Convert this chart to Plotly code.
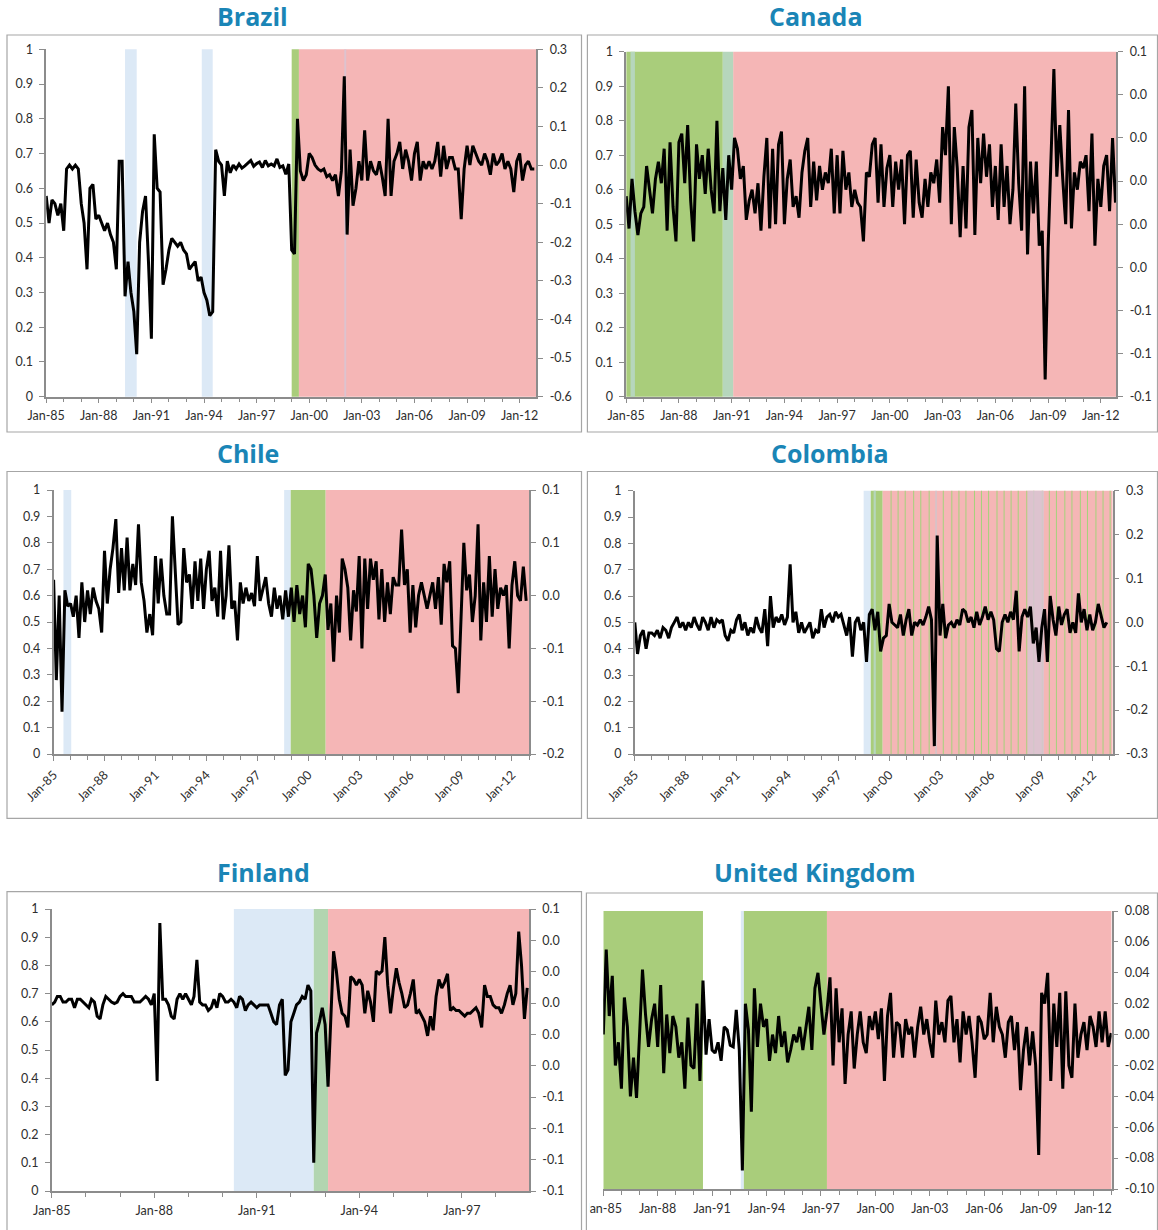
import pandas as pd
import plotly.graph_objects as go

# ---------------- data ----------------
series_start = "1985-01-01"

# right-axis series, sampled every two months from Jan-1985
brazil = [
    -0.08, -0.15, -0.09, -0.10, -0.13, -0.10,
    -0.17, -0.01, 0.00, -0.01, 0.00, -0.01,
    -0.10, -0.15, -0.27, -0.06, -0.05, -0.14,
    -0.13, -0.15, -0.17, -0.15, -0.18, -0.20,
    -0.27, 0.01, 0.01, -0.34, -0.25, -0.33,
    -0.38, -0.49, -0.20, -0.12, -0.08, -0.25,
    -0.45, 0.08, -0.06, -0.07, -0.31, -0.27,
    -0.22, -0.19, -0.20, -0.21, -0.20, -0.22,
    -0.23, -0.27, -0.26, -0.25, -0.30, -0.29,
    -0.33, -0.35, -0.39, -0.38, 0.04, 0.01,
    0.00, -0.08, 0.01, -0.02, 0.00, -0.01,
    0.003, -0.008, -0.002, 0.005, 0.012, -0.003,
    0.004, 0.008, -0.006, 0.012, -0.002, 0.003,
    -0.002, 0.016, -0.006, -0.002, -0.024, 0.003,
    -0.22, -0.23, 0.12, -0.015, -0.04, -0.025,
    0.03, 0.02, 0.00, -0.01, -0.015, -0.01,
    -0.03, -0.025, -0.04, -0.025, -0.08, -0.015,
    0.23, -0.18, 0.04, -0.105, -0.06, 0.01,
    -0.04, 0.09, -0.04, 0.01, -0.015, -0.025,
    0.01, -0.03, -0.08, 0.12, -0.08, 0.01,
    0.03, 0.06, -0.01, 0.04, 0.01, -0.04,
    0.03, 0.06, -0.04, 0.01, -0.01, 0.01,
    -0.01, 0.01, 0.06, -0.03, 0.05, -0.01,
    0.02, 0.02, -0.01, -0.01, -0.14, -0.01,
    0.05, 0.00, 0.05, 0.03, 0.01, 0.00,
    0.03, 0.01, -0.025, 0.03, 0.00, 0.01,
    0.03, -0.01, 0.01, -0.01, -0.07, 0.01,
    0.03, -0.04, 0.00, 0.01, -0.01, -0.01,
]

canada = [
    -0.007, -0.022, 0.001, -0.014, -0.025, -0.015,
    -0.012, 0.007, -0.004, -0.015, 0.001, 0.009,
    -0.001, 0.015, -0.023, 0.018, -0.012, -0.028,
    0.018, 0.022, -0.001, 0.026, -0.009, -0.028,
    0.017, 0.001, 0.012, -0.006, 0.015, -0.004,
    -0.015, 0.028, -0.014, 0.006, -0.018, 0.012,
    -0.004, 0.020, 0.015, 0.001, 0.007, -0.018,
    -0.009, -0.004, -0.015, -0.001, -0.023, 0.002,
    0.020, -0.022, 0.015, -0.020, 0.017, 0.023,
    -0.020, 0.001, 0.010, -0.012, -0.007, -0.017,
    0.004, 0.014, 0.020, -0.012, 0.009, -0.009,
    0.007, -0.004, 0.004, -0.001, 0.015, -0.015,
    0.012, -0.015, 0.014, -0.004, 0.004, -0.012,
    -0.004, -0.010, -0.012, -0.028, 0.004, 0.002,
    0.017, 0.020, -0.010, 0.017, -0.012, 0.006,
    0.012, -0.012, 0.009, -0.004, 0.010, -0.020,
    0.012, 0.014, -0.017, 0.010, -0.010, -0.017,
    0.001, -0.012, 0.004, -0.001, 0.010, -0.010,
    0.025, 0.012, 0.044, -0.020, 0.025, 0.006,
    -0.026, 0.007, -0.022, 0.025, 0.033, -0.025,
    0.020, -0.001, 0.022, 0.002, 0.017, -0.012,
    0.007, -0.018, 0.017, -0.012, 0.007, -0.020,
    -0.004, 0.036, -0.001, -0.023, 0.044, -0.034,
    0.009, -0.015, 0.009, -0.030, -0.023, -0.092,
    -0.031, 0.012, 0.052, 0.002, 0.026, 0.001,
    -0.020, 0.033, -0.022, 0.004, -0.004, 0.009,
    0.006, 0.012, -0.014, 0.022, -0.030, 0.001,
    -0.012, 0.007, 0.012, -0.014, 0.020, -0.010,
]

chile = [
    0.015, -0.08, 0.0, -0.11, 0.005, -0.01,
    -0.0075, -0.02, 0.0, -0.04, 0.0125, -0.025,
    0.005, -0.0175, 0.0075, -0.005, -0.0125, -0.035,
    0.0425, -0.0075, 0.025, 0.045, 0.0725, 0.0025,
    0.045, 0.005, 0.055, 0.005, 0.03, 0.01,
    0.0675, 0.0125, -0.005, -0.035, -0.0175, -0.0375,
    0.0375, -0.0075, 0.035, 0.0, -0.0175, -0.0175,
    0.075, 0.025, -0.0275, -0.025, 0.045, 0.0125,
    0.02, -0.0125, 0.0325, -0.005, 0.035, -0.0125,
    0.025, 0.0425, -0.005, 0.0075, -0.02, 0.0425,
    -0.0225, 0.0, 0.0475, -0.0125, -0.005, -0.0425,
    0.0125, -0.0075, 0.0075, -0.005, 0.0025, -0.01,
    0.0375, -0.005, 0.005, 0.0175, -0.0075, -0.02,
    0.0075, -0.0125, 0.0, -0.0225, 0.005, -0.02,
    0.0075, -0.025, 0.01, -0.0175, 0.0, -0.03,
    0.03, 0.025, 0.0, -0.04, -0.0075, 0.0,
    0.02, -0.0325, -0.0075, -0.0625, 0.0, -0.035,
    0.035, 0.025, 0.0075, -0.0425, 0.005, -0.015,
    0.0375, -0.05, 0.035, -0.0125, 0.035, 0.015,
    0.0325, -0.0225, 0.025, -0.025, 0.0125, -0.0175,
    0.0175, 0.01, 0.01, 0.0625, 0.01, 0.025,
    -0.035, 0.01, -0.03, 0.0, 0.0125, 0.0,
    -0.0125, 0.0, 0.0125, -0.0125, 0.0175, -0.0275,
    0.03, 0.0125, 0.0325, -0.0475, -0.05, -0.0925,
    -0.0125, 0.05, 0.005, 0.02, -0.025, 0.0,
    0.0675, -0.0425, 0.0125, -0.025, 0.0375, -0.02,
    0.025, -0.0125, 0.0075, 0.0, 0.01, -0.05,
    0.01, 0.0325, 0.0, -0.005, 0.0275, -0.005,
]

colombia = [
    0.0, -0.072, -0.03, -0.018, -0.06, -0.024,
    -0.024, -0.03, -0.018, -0.036, -0.012, -0.018,
    -0.036, -0.012, 0.0, 0.012, -0.012, 0.0,
    -0.018, 0.0, -0.012, 0.012, -0.006, -0.018,
    0.012, 0.0, -0.018, 0.012, -0.012, 0.006,
    0.0, 0.006, -0.03, -0.042, -0.018, -0.024,
    0.006, 0.018, -0.018, 0.0, -0.03, -0.012,
    -0.024, 0.012, -0.012, -0.024, 0.03, -0.054,
    0.06, -0.012, 0.012, 0.0, 0.018, -0.006,
    0.012, 0.132, 0.0, 0.024, -0.024, 0.0,
    -0.024, -0.012, 0.0, -0.036, -0.018, -0.024,
    0.03, -0.012, 0.012, 0.018, 0.0, 0.024,
    0.012, 0.018, -0.006, -0.03, 0.012, -0.078,
    0.0, 0.012, -0.018, 0.0, -0.09, 0.018,
    0.03, -0.018, 0.024, -0.066, -0.036, -0.03,
    0.042, 0.0, -0.006, -0.012, 0.018, -0.03,
    0.006, 0.03, -0.03, 0.0, -0.006, 0.006,
    -0.006, 0.012, 0.036, 0.006, -0.282, 0.198,
    -0.03, 0.042, -0.036, -0.006, 0.0, -0.012,
    0.006, -0.006, 0.03, 0.024, 0.0, 0.012,
    -0.012, 0.024, -0.006, 0.012, 0.036, 0.006,
    0.024, 0.006, -0.06, -0.066, 0.0, 0.018,
    0.0, 0.024, 0.006, 0.072, -0.066, 0.012,
    0.03, 0.012, 0.036, -0.048, -0.012, -0.09,
    -0.012, 0.03, -0.09, 0.06, 0.006, -0.03,
    0.036, -0.006, 0.018, 0.03, -0.024, 0.0,
    -0.024, 0.066, 0.0, 0.03, -0.018, 0.018,
    -0.018, 0.0, 0.042, 0.012, -0.012, 0.0,
]

# monthly from Jan-1985 to Dec-1998
finland = [
    -0.0012, 0.0006, 0.0042, 0.0042, 0.0006, 0.0006, 0.0024, 0.0024, -0.003, 0.0024, 0.0024, 0.0006,
    -0.0012, -0.003, 0.0024, 0.0006, -0.0084, -0.0102, -0.0012, 0.0042, 0.0024, 0.0006, -0.0003, 0.0006,
    0.0042, 0.006, 0.0042, 0.0042, 0.0042, 0.0006, 0.0006, 0.0006, 0.0024, 0.0042, 0.0024, -0.0012,
    0.006, -0.0498, 0.051, 0.0024, 0.0024, -0.0012, -0.0084, -0.0102, 0.0024, 0.006, 0.0024, 0.006,
    0.0024, -0.0012, 0.0042, 0.0276, 0.0006, -0.0012, -0.0012, -0.0048, -0.003, 0.0024, -0.003, 0.006,
    0.0042, 0.0006, 0.0006, 0.0024, 0.0006, -0.003, 0.0042, 0.0024, -0.0048, -0.0012, 0.0006, -0.0012,
    -0.003, -0.0012, -0.0012, -0.0012, -0.0012, -0.0066, -0.012, -0.0138, -0.0012, 0.0024, -0.0462, -0.0426,
    -0.012, -0.0066, -0.0012, 0.0006, 0.0042, 0.0024, 0.0114, 0.0078, -0.102, -0.0192, -0.012, -0.003,
    -0.0138, -0.0534, -0.012, 0.033, 0.0204, 0.0024, -0.0066, -0.0084, -0.0156, 0.0168, 0.015, 0.0114,
    0.015, 0.0114, -0.0066, 0.0078, 0.0006, -0.012, 0.0204, 0.0186, 0.0204, 0.042, 0.0114, -0.0066,
    0.0096, 0.0222, 0.0132, 0.006, -0.003, -0.0012, 0.006, 0.015, -0.0066, -0.0048, -0.0084, -0.012,
    -0.021, -0.0084, -0.0174, 0.0042, 0.015, 0.0096, 0.0132, 0.0186, -0.0048, -0.003, -0.0048, -0.0048,
    -0.0066, -0.0084, -0.0066, -0.0066, -0.0048, -0.003, -0.0066, -0.0156, 0.0114, 0.0042, 0.0042, -0.0012,
    -0.003, -0.003, -0.0066, -0.0012, 0.006, 0.0114, -0.0012, 0.006, 0.0456, 0.024, -0.0102, 0.0096,
]

uk = [
    0.000, 0.055, 0.012, 0.038, -0.020, -0.005,
    -0.035, 0.024, 0.005, -0.040, -0.015, -0.041,
    0.000, 0.042, 0.013, -0.008, 0.010, 0.020,
    -0.008, 0.032, -0.025, 0.013, -0.012, 0.012,
    0.005, -0.015, -0.005, -0.035, 0.011, -0.020,
    -0.022, 0.020, -0.030, 0.035, -0.013, 0.010,
    -0.010, -0.012, -0.005, -0.017, 0.005, 0.003,
    -0.007, -0.008, 0.016, -0.010, -0.088, 0.020,
    0.003, -0.050, 0.030, -0.008, 0.020, 0.005,
    0.010, -0.017, 0.000, -0.012, 0.012, -0.008,
    0.002, -0.018, -0.010, 0.000, -0.005, 0.005,
    -0.010, 0.005, 0.018, -0.010, 0.030, 0.040,
    0.020, 0.000, 0.015, 0.037, -0.020, 0.030,
    -0.005, 0.017, -0.032, 0.000, 0.015, -0.022,
    0.000, 0.015, -0.005, -0.012, 0.012, 0.003,
    0.015, -0.003, 0.017, -0.030, 0.012, 0.027,
    -0.015, 0.008, 0.006, -0.015, 0.010, 0.000,
    0.005, -0.015, 0.005, 0.018, 0.000, 0.010,
    -0.005, -0.015, 0.022, 0.000, 0.008, -0.005,
    0.022, 0.025, -0.005, 0.010, -0.018, 0.015,
    0.000, 0.012, -0.005, -0.028, 0.012, 0.008,
    -0.003, 0.000, 0.027, -0.005, 0.018, 0.005,
    0.000, -0.015, 0.008, 0.012, -0.010, 0.008,
    -0.036, -0.010, 0.005, -0.020, 0.002, -0.020,
    -0.078, 0.027, 0.020, 0.040, -0.030, 0.020,
    -0.008, 0.027, -0.035, 0.028, -0.020, -0.028,
    0.020, -0.015, 0.000, 0.008, -0.010, 0.012,
    0.005, -0.008, 0.015, -0.005, 0.015, -0.008,
    0.001,
]

# regime periods (start, end, regime)
brazil_regimes = [("1989-07-01", "1990-03-01", "blue"), ("1993-11-15", "1994-07-01", "blue"),
                  ("1999-01-01", "1999-06-01", "green"), ("1999-06-01", "2012-12-31", "pink"),
                  ("2002-01-01", "2002-02-10", "lavender")]
canada_regimes = [("1985-01-01", "1990-07-01", "green"), ("1985-04-01", "1985-07-01", "teal"),
                  ("1990-07-01", "1991-02-01", "teal"), ("1991-02-01", "2012-12-31", "pink")]
chile_regimes = [("1985-08-01", "1986-01-15", "blue"), ("1998-08-01", "1998-12-20", "blue"),
                 ("1998-12-20", "2001-01-10", "green"), ("2001-01-10", "2013-01-01", "pink")]
colombia_regimes = [("1998-07-01", "1998-12-01", "blue"), ("1998-12-01", "1999-08-15", "green"),
                    ("1999-02-01", "1999-03-20", "teal"), ("1999-08-15", "2013-03-10", "pink"),
                    ("2008-03-01", "2009-02-15", "lavender"), ("2002-09-20", "2002-10-25", "grey")]
colombia_switch_months = ["2000-02-01", "2000-07-01", "2000-12-01", "2001-06-01", "2001-11-01",
                          "2002-05-01", "2003-03-01", "2003-09-01", "2004-02-01", "2004-07-01",
                          "2005-01-01", "2005-06-01", "2005-11-01", "2006-05-01", "2006-10-01",
                          "2007-03-01", "2007-08-01", "2008-02-01", "2008-07-01", "2009-01-01",
                          "2009-06-01", "2009-11-01", "2010-05-01", "2010-10-01", "2011-04-01",
                          "2011-09-01", "2012-03-01", "2012-08-01", "2013-01-01"]
finland_regimes = [("1990-05-01", "1992-09-01", "blue"), ("1992-09-01", "1993-02-01", "teal2"),
                   ("1993-02-01", "1998-12-31", "pink")]
uk_regimes = [("1985-01-01", "1990-07-01", "green"), ("1992-08-01", "1992-10-01", "blue"),
              ("1992-10-01", "1997-05-01", "green"), ("1997-05-01", "2013-01-10", "pink")]

# tick labels
left_ticks = [0, 0.1, 0.2, 0.3, 0.4, 0.5, 0.6, 0.7, 0.8, 0.9, 1.0]
left_text = ["0", "0.1", "0.2", "0.3", "0.4", "0.5", "0.6", "0.7", "0.8", "0.9", "1"]
brazil_rt = [-0.6, -0.5, -0.4, -0.3, -0.2, -0.1, 0.0, 0.1, 0.2, 0.3]
brazil_rt_text = ["-0.6", "-0.5", "-0.4", "-0.3", "-0.2", "-0.1", "0.0", "0.1", "0.2", "0.3"]
canada_rt = [-0.10, -0.08, -0.06, -0.04, -0.02, 0.0, 0.02, 0.04, 0.06]
canada_rt_text = ["-0.1", "-0.1", "-0.1", "0.0", "0.0", "0.0", "0.0", "0.0", "0.1"]
chile_rt = [-0.15, -0.10, -0.05, 0.0, 0.05, 0.10]
chile_rt_text = ["-0.2", "-0.1", "-0.1", "0.0", "0.1", "0.1"]
colombia_rt = [-0.3, -0.2, -0.1, 0.0, 0.1, 0.2, 0.3]
colombia_rt_text = ["-0.3", "-0.2", "-0.1", "0.0", "0.1", "0.2", "0.3"]
finland_rt = [-0.12, -0.10, -0.08, -0.06, -0.04, -0.02, 0.0, 0.02, 0.04, 0.06]
finland_rt_text = ["-0.1", "-0.1", "-0.1", "-0.1", "0.0", "0.0", "0.0", "0.0", "0.0", "0.1"]
uk_rt = [-0.10, -0.08, -0.06, -0.04, -0.02, 0.0, 0.02, 0.04, 0.06, 0.08]
uk_rt_text = ["-0.10", "-0.08", "-0.06", "-0.04", "-0.02", "0.00", "0.02", "0.04", "0.06", "0.08"]

# ---------------- styling ----------------
W, H = 1158, 1230
REGIME_COLORS = {"blue": "#dce9f6", "green": "#a9cd7b", "pink": "#f5b6b6", "teal": "#b6d6bc",
                 "teal2": "#b2d5b0", "lavender": "#d8c6d4", "grey": "#cfc7cc"}
STRIPE_COLOR = "#a6d27c"
AX = "#8c8c8c"
TXT = "#2e2e2e"
TICKFONT = dict(family="Lato, 'Open Sans', sans-serif", size=12.5, color=TXT)
TITLEFONT = dict(family="'Open Sans', sans-serif", size=25, color="#1a85b6")

panels = [
    dict(title="Brazil", tpos=(252, 16), box=(7, 35, 581.5, 432), plot=(46.2, 49.3, 536.4, 396.7),
         xr=["1985-01-01", "2012-12-15"], vals=brazil, freq="2MS", rt=brazil_rt, rtt=brazil_rt_text,
         rr=[-0.6, 0.3], ang=0, left=True, regimes=brazil_regimes, stripes=[]),
    dict(title="Canada", tpos=(815, 16), box=(587.4, 35, 1157.5, 432), plot=(626.2, 51.7, 1116.4, 396.7),
         xr=["1985-01-01", "2012-11-20"], vals=canada, freq="2MS", rt=canada_rt, rtt=canada_rt_text,
         rr=[-0.10, 0.06], ang=0, left=True, regimes=canada_regimes, stripes=[]),
    dict(title="Chile", tpos=(248, 453), box=(7, 471.5, 581.5, 818.3), plot=(53.6, 490, 529, 754),
         xr=["1985-01-01", "2013-01-01"], vals=chile, freq="2MS", rt=chile_rt, rtt=chile_rt_text,
         rr=[-0.15, 0.10], ang=-45, left=True, regimes=chile_regimes, stripes=[]),
    dict(title="Colombia", tpos=(830, 453), box=(587.4, 471.5, 1157.5, 818.3), plot=(634.8, 490.7, 1112.7, 754),
         xr=["1985-01-01", "2013-03-08"], vals=colombia, freq="2MS", rt=colombia_rt, rtt=colombia_rt_text,
         rr=[-0.3, 0.3], ang=-45, left=True, regimes=colombia_regimes, stripes=colombia_switch_months),
    dict(title="Finland", tpos=(263, 872), box=(7, 891.7, 581.5, 1240), plot=(51.8, 909, 529, 1191),
         xr=["1985-01-01", "1998-12-20"], vals=finland, freq="MS", rt=finland_rt, rtt=finland_rt_text,
         rr=[-0.12, 0.06], ang=0, left=True, regimes=finland_regimes, stripes=[]),
    dict(title="United Kingdom", tpos=(815, 872), box=(586.4, 893, 1157.5, 1240), plot=(603.3, 911, 1111.6, 1189),
         xr=["1985-01-01", "2013-01-08"], vals=uk, freq="2MS", rt=uk_rt, rtt=uk_rt_text,
         rr=[-0.10, 0.08], ang=0, left=False, regimes=uk_regimes, stripes=[]),
]

fig = go.Figure()
layout = dict(width=W, height=H, margin=dict(l=0, r=0, t=0, b=0, pad=0, autoexpand=False), autosize=False,
              paper_bgcolor="white", plot_bgcolor="rgba(0,0,0,0)", showlegend=False)
shapes = []
annotations = []


def shade(xref, lref, s, e, color, opacity=1.0):
    return dict(type="rect", xref=xref, yref=f"{lref} domain", x0=s, x1=e, y0=0, y1=1,
                fillcolor=color, line=dict(width=0), layer="below", opacity=opacity)


for i, p in enumerate(panels, start=1):
    xname = "xaxis" if i == 1 else f"xaxis{i}"
    xref = "x" if i == 1 else f"x{i}"
    li, ri = 2 * i - 1, 2 * i
    lname = "yaxis" if li == 1 else f"yaxis{li}"
    lref = "y" if li == 1 else f"y{li}"
    rname = f"yaxis{ri}"
    rref = f"y{ri}"
    x0, y0, x1, y1 = p["plot"]

    layout[xname] = dict(
        domain=[x0 / W, x1 / W], anchor=lref, type="date", range=p["xr"], automargin=False,
        tick0="1985-01-01", dtick="M36", tickformat="%b-%y", tickangle=p["ang"],
        ticks="outside", ticklen=5, tickwidth=1, tickcolor=AX, ticklabelstandoff=2,
        showline=True, linecolor=AX, linewidth=1.5, showgrid=False, zeroline=False,
        tickfont=TICKFONT, fixedrange=True,
        minor=dict(dtick="M12", tick0="1985-01-01", ticks="outside", ticklen=4, tickcolor=AX, showgrid=False),
    )
    layout[lname] = dict(
        domain=[1 - y1 / H, 1 - y0 / H], anchor=xref, range=[0, 1], automargin=False,
        tickvals=left_ticks, ticktext=left_text, ticks="outside", ticklen=5, tickcolor=AX,
        ticklabelstandoff=4,
        showline=True, linecolor=AX, linewidth=1.5, showgrid=False, zeroline=False,
        tickfont=TICKFONT, visible=p["left"], fixedrange=True,
    )
    layout[rname] = dict(
        overlaying=lref, side="right", anchor=xref, range=p["rr"], automargin=False,
        tickvals=p["rt"], ticktext=p["rtt"], ticks="outside", ticklen=5, tickcolor=AX,
        ticklabelstandoff=4,
        showline=True, linecolor=AX, linewidth=1.5, showgrid=False, zeroline=False,
        tickfont=TICKFONT, fixedrange=True,
    )

    fig.add_trace(go.Scatter(x=[], y=[], xaxis=xref, yaxis=lref, hoverinfo="skip", showlegend=False))
    dates = pd.date_range(series_start, periods=len(p["vals"]), freq=p["freq"])
    fig.add_trace(go.Scatter(x=dates, y=p["vals"], xaxis=xref, yaxis=rref, mode="lines",
                             line=dict(color="black", width=3.0), showlegend=False))

    # regime shading: base regimes, then overlapping mixes, then switch stripes
    for s, e, k in p["regimes"]:
        if k not in ("lavender", "grey", "teal"):
            shapes.append(shade(xref, lref, s, e, REGIME_COLORS[k]))
    for s, e, k in p["regimes"]:
        if k == "teal":
            shapes.append(shade(xref, lref, s, e, REGIME_COLORS[k]))
    for s in p["stripes"]:
        e = (pd.Timestamp(s) + pd.Timedelta(days=22)).strftime("%Y-%m-%d")
        shapes.append(shade(xref, lref, s, e, STRIPE_COLOR))
    for s, e, k in p["regimes"]:
        if k in ("lavender", "grey"):
            shapes.append(shade(xref, lref, s, e, REGIME_COLORS[k], 0.85))

    tx, ty = p["tpos"]
    annotations.append(dict(text=f"<b>{p['title']}</b>", x=tx / W, y=1 - ty / H, xref="paper", yref="paper",
                            xanchor="center", yanchor="middle", showarrow=False, font=TITLEFONT))

# white mask clipping the first UK tick label at its chart border
shapes.append(dict(type="rect", xref="paper", yref="paper", x0=582.5 / W, x1=589.5 / W,
                   y0=1 - 1228 / H, y1=1 - 1197 / H, fillcolor="white", line=dict(width=0), layer="above"))
# chart borders
for p in panels:
    bx0, by0, bx1, by1 = p["box"]
    shapes.append(dict(type="rect", xref="paper", yref="paper", x0=bx0 / W, x1=bx1 / W,
                       y0=1 - by1 / H, y1=1 - by0 / H, line=dict(color="#a6a6a6", width=1.2),
                       fillcolor="rgba(0,0,0,0)", layer="above"))

layout["shapes"] = shapes
layout["annotations"] = annotations
fig.update_layout(**layout)
fig.write_html("out.html")
